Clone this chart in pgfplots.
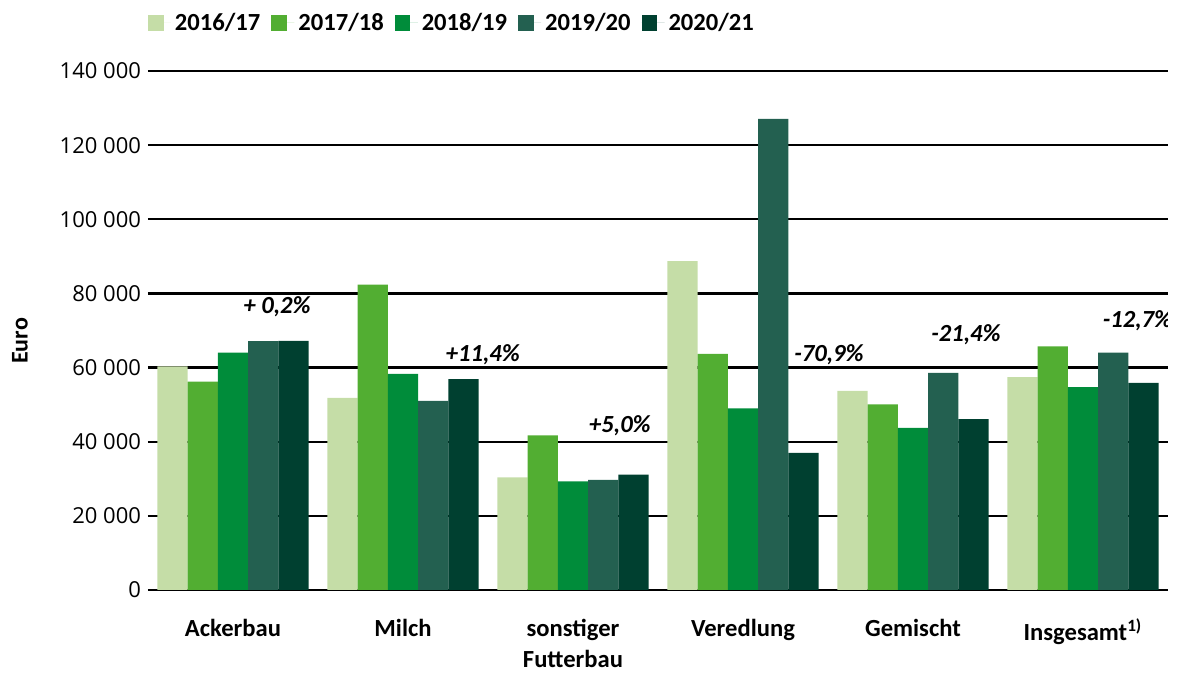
\documentclass[border=0pt]{standalone}
\usepackage{fontspec}
\setmainfont{Carlito}
\newfontfamily\tickfont{Open Sans}
\usepackage{pgfplots}
\pgfplotsset{compat=1.18}
\usepackage{pgfplotstable}
\definecolor{cA}{HTML}{C5DDA7}
\definecolor{cB}{HTML}{52AE32}
\definecolor{cC}{HTML}{008C3A}
\definecolor{cD}{HTML}{236050}
\definecolor{cE}{HTML}{004030}
\pgfplotstableread{
x A B C D E
0 60300 56200 64000 67100 67200
1 51800 82400 58300 51000 56900
2 30400 41700 29300 29700 31100
3 88700 63700 49000 127100 37000
4 53700 50100 43700 58600 46100
5 57400 65700 54700 64000 55900
}\data
\begin{document}
\begin{tikzpicture}
\path[use as bounding box] (-74pt,-41.5pt) rectangle (515.5pt,295pt);
\begin{axis}[
  at={(0,0)}, anchor=south west,
  scale only axis, width=510pt, height=259.5pt,
  xmin=-0.5, xmax=5.5, ymin=0, ymax=140000,
  ybar=0pt, bar width=0.178,
  axis line style={draw=none},
  major tick length=0pt,
  ymajorgrids, grid style={black, line width=1.2pt},
  xtick={0,1,2,3,4,5},
  xticklabels={Ackerbau, Milch, {sonstiger\\Futterbau}, Veredlung, Gemischt, {Insgesamt\textsuperscript{1)}}},
  xticklabel style={font=\bfseries\fontsize{12.3}{15.5}\selectfont, align=center, anchor=north, yshift=-11pt},
  ytick={0,20000,40000,60000,80000,100000,120000,140000},
  scaled y ticks=false,
  /pgf/number format/fixed,
  /pgf/number format/precision=0,
  /pgf/number format/assume math mode=true,
  /pgf/number format/1000 sep={\ },
  yticklabel style={font=\tickfont\fontsize{11}{13}\selectfont},
  ylabel={Euro},
  ylabel style={font=\bfseries\fontsize{12}{14}\selectfont, at={(axis description cs:-0.1255,0.48)}, anchor=center},
  legend columns=5,
  legend style={at={(axis description cs:0,1)}, anchor=west, yshift=24pt, draw=none, fill=none, inner sep=0pt, outer sep=0pt,
    font=\bfseries\fontsize{12.3}{14}\selectfont,
    /tikz/every even column/.append style={column sep=3.5pt}},
  legend image code/.code={\fill[#1] (0pt,-3.9pt) rectangle (7.8pt,3.9pt); \path (0pt,0pt) -- (11.5pt,0pt);},
]
\addplot[fill=cA, draw=none] table[x=x,y=A]{\data};
\addplot[fill=cB, draw=none] table[x=x,y=B]{\data};
\addplot[fill=cC, draw=none] table[x=x,y=C]{\data};
\addplot[fill=cD, draw=none] table[x=x,y=D]{\data};
\addplot[fill=cE, draw=none] table[x=x,y=E]{\data};
\legend{2016/17,2017/18,2018/19,2019/20,2020/21}
\begin{scope}[every node/.style={font=\bfseries\itshape\fontsize{12.3}{14}\selectfont, inner sep=0pt}]
\node at (axis cs:0.259,76400) {+ 0,2\%};
\node at (axis cs:1.47,63450) {+11,4\%};
\node at (axis cs:2.276,44300) {+5,0\%};
\node at (axis cs:3.506,63450) {-70,9\%};
\node at (axis cs:4.312,68850) {-21,4\%};
\node at (axis cs:5.32,72700) {-12,7\%};
\end{scope}
\end{axis}
\end{tikzpicture}
\end{document}
